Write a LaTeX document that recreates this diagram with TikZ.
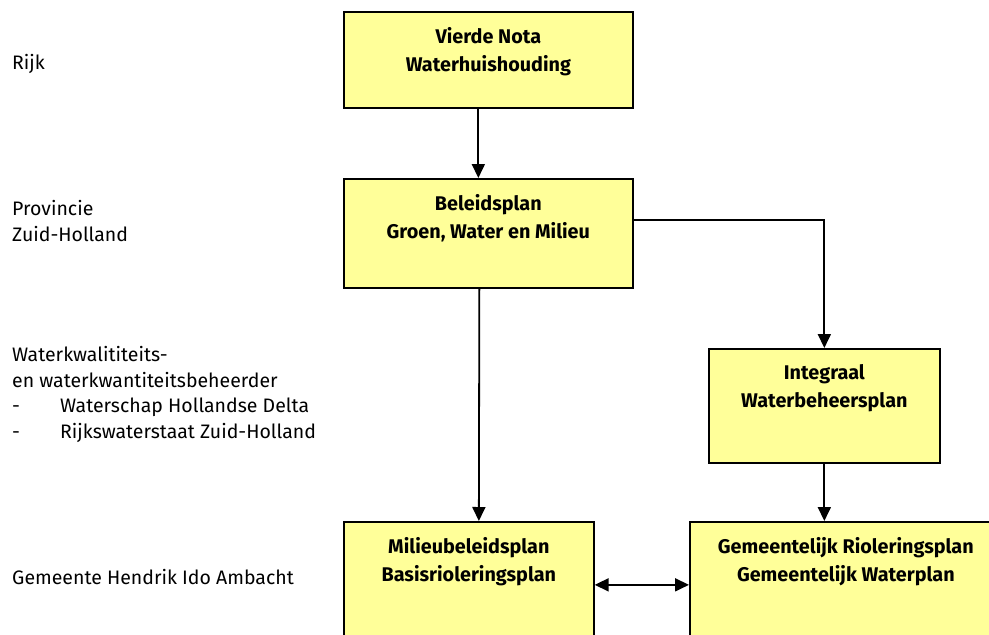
\documentclass[tikz,border=0pt]{standalone}
\usepackage{fontspec}
\setmainfont{Fira Sans}
\usetikzlibrary{arrows.meta,positioning}
\definecolor{planyellow}{RGB}{255,255,153}

\begin{document}
\begin{tikzpicture}[x=1pt,y=-1pt]

\tikzset{
    plan/.style={draw, fill=planyellow, line width=1.7pt, anchor=north west, inner sep=0pt},
    plantext/.style={font=\fontsize{19.8}{28}\selectfont\bfseries, align=center, inner sep=0pt},
    layer/.style={font=\fontsize{19.5}{25.5}\selectfont, align=left, anchor=base west, inner sep=0pt},
    flow/.style={line width=1.8pt, -{Triangle[length=14pt,width=13pt]}},
    twoway/.style={line width=1.8pt, {Triangle[length=14pt,width=13pt]}-{Triangle[length=14pt,width=13pt]}}}

\useasboundingbox (0,0) rectangle (989,635);
\clip (0,0) rectangle (989,635);

% levels
\node[layer] (rijk) at (12,69) {Rijk};
\node[layer] (provincie) at (12,241) {Provincie\\Zuid-Holland};
\node[layer] (beheerder) at (12,438) {Waterkwalititeits-\\en waterkwantiteitsbeheerder\\
    \makebox[48pt][l]{-}Waterschap Hollandse Delta\\\makebox[48pt][l]{-}Rijkswaterstaat Zuid-Holland};
\node[layer] (gemeente) at (12,584) {Gemeente Hendrik Ido Ambacht};

% plans
\node[plan, minimum width=289pt, minimum height=96pt] (nota) at (343,11) {};
\node[plantext, below=16pt of nota.north] (notatxt) {Vierde Nota\\Waterhuishouding};

\node[plan, minimum width=289pt, minimum height=109pt] (beleid) at (343,178) {};
\node[plantext, below=16pt of beleid.north] (beleidtxt) {Beleidsplan\\Groen, Water en Milieu};

\node[plan, minimum width=231pt, minimum height=114pt] (integraal) at (708,348) {};
\node[plantext, below=16pt of integraal.north] (integraaltxt) {Integraal\\Waterbeheersplan};

\node[plan, minimum width=250pt, minimum height=126pt] (milieu) at (343,521) {};
\node[plantext, below=16pt of milieu.north] (milieutxt) {Milieubeleidsplan\\Basisrioleringsplan};

\node[plan, minimum width=312pt, minimum height=126pt] (riool) at (689,521) {};
\node[plantext, below=16pt of riool.north] (riooltxt) {Gemeentelijk Rioleringsplan\\Gemeentelijk Waterplan};

\draw[flow] ([xshift=-10pt]nota.south) -- ([xshift=-10pt]beleid.north);
\draw[flow] ([yshift=13.5pt]beleid.east) -| (integraal.north);
\draw[flow] ([xshift=-9pt]beleid.south) -- ([xshift=10pt]milieu.north);
\draw[flow] (integraal.south) -- (integraal.south |- riool.north);
\draw[twoway] (milieu.east) -- (riool.west);

\end{tikzpicture}
\end{document}
